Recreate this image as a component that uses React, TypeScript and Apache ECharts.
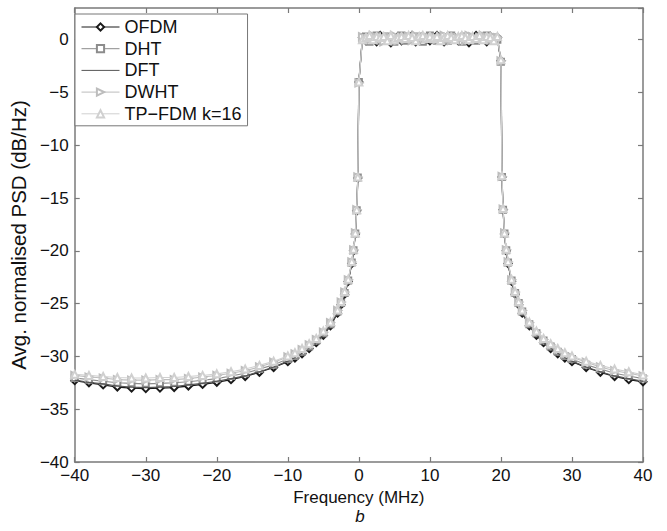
import React, { useEffect, useRef } from "react";
import * as echarts from "echarts";

// Frequency grid (MHz)
const xLeft = [-40, -38, -36, -34, -32, -30, -28, -26, -24, -22, -20, -18, -16, -14, -12, -10, -9, -8, -7, -6, -5, -4, -3, -2.5, -2, -1.5, -1, -0.75, -0.5, -0.3, -0.15, 0];
const xBand = [0.5, 1, 1.5, 2, 2.5, 3, 3.5, 4, 4.5, 5, 5.5, 6, 6.5, 7, 7.5, 8, 8.5, 9, 9.5, 10, 10.5, 11, 11.5, 12, 12.5, 13, 13.5, 14, 14.5, 15, 15.5, 16, 16.5, 17, 17.5, 18, 18.5, 19, 19.5];
const xRight = [20, 20.15, 20.3, 20.5, 20.75, 21, 21.5, 22, 22.5, 23, 24, 25, 26, 27, 28, 29, 30, 32, 34, 36, 38, 40];

// OFDM
const ofdmLeft = [-32.3, -32.5, -32.7, -32.9, -33.0, -33.05, -33.0, -32.95, -32.8, -32.65, -32.45, -32.2, -31.9, -31.5, -31.05, -30.5, -30.15, -29.75, -29.25, -28.7, -28.0, -27.1, -25.9, -25.1, -24.1, -22.9, -21.2, -20.0, -18.4, -16.2, -13.1, -4.0];
const ofdmBand = [0.2, -0.1, 0.3, 0.1, -0.2, 0.4, 0.0, 0.2, -0.3, 0.1, 0.3, -0.1, 0.2, 0.0, 0.4, -0.2, 0.1, 0.3, 0.0, -0.1, 0.2, 0.4, 0.1, -0.2, 0.3, 0.0, 0.2, -0.1, 0.3, 0.1, -0.3, 0.2, 0.4, 0.0, 0.1, -0.2, 0.3, 0.1, 0.2];
const ofdmRight = [-2.0, -13.0, -16.1, -18.4, -20.0, -21.2, -22.9, -24.1, -25.1, -25.9, -27.1, -28.0, -28.7, -29.25, -29.75, -30.15, -30.5, -31.05, -31.5, -31.9, -32.2, -32.4];

// DHT
const dhtLeft = [-32.05, -32.2, -32.35, -32.5, -32.55, -32.6, -32.55, -32.5, -32.4, -32.25, -32.1, -31.85, -31.6, -31.2, -30.8, -30.25, -29.95, -29.55, -29.05, -28.5, -27.8, -26.95, -25.75, -24.95, -24.0, -22.8, -21.1, -19.95, -18.35, -16.15, -13.05, -4.0];
const dhtBand = [0.0, 0.3, -0.2, 0.2, 0.4, -0.1, 0.1, 0.3, 0.0, -0.2, 0.2, 0.4, -0.1, 0.3, 0.1, 0.0, 0.3, -0.2, 0.2, 0.4, 0.0, -0.1, 0.3, 0.2, -0.1, 0.4, 0.1, 0.0, -0.2, 0.3, 0.2, 0.0, -0.1, 0.3, 0.2, 0.4, -0.1, 0.2, 0.0];
const dhtRight = [-2.1, -13.0, -16.1, -18.35, -19.95, -21.1, -22.8, -24.0, -24.95, -25.75, -26.95, -27.8, -28.5, -29.05, -29.55, -29.95, -30.25, -30.8, -31.2, -31.6, -31.85, -32.1];

// DFT
const dftLeft = [-32.25, -32.45, -32.6, -32.8, -32.9, -32.95, -32.9, -32.85, -32.7, -32.55, -32.35, -32.1, -31.85, -31.45, -31.0, -30.45, -30.1, -29.7, -29.2, -28.65, -27.95, -27.05, -25.85, -25.05, -24.05, -22.9, -21.2, -20.0, -18.4, -16.2, -13.1, -4.0];
const dftBand = [0.1, 0.0, 0.2, 0.3, -0.1, 0.2, 0.4, -0.1, 0.2, 0.3, 0.0, 0.1, 0.4, -0.2, 0.2, 0.3, -0.1, 0.1, 0.3, 0.2, -0.2, 0.2, 0.0, 0.3, 0.1, 0.2, -0.2, 0.3, 0.0, 0.4, 0.1, -0.1, 0.2, 0.3, -0.1, 0.0, 0.2, 0.4, 0.1];
const dftRight = [-2.0, -13.05, -16.15, -18.4, -20.0, -21.2, -22.9, -24.05, -25.05, -25.85, -27.05, -27.95, -28.65, -29.2, -29.7, -30.1, -30.45, -31.0, -31.45, -31.85, -32.1, -32.35];

// DWHT
const dwhtLeft = [-31.8, -31.95, -32.05, -32.2, -32.25, -32.25, -32.2, -32.2, -32.1, -31.95, -31.8, -31.6, -31.35, -31.0, -30.55, -30.05, -29.75, -29.35, -28.9, -28.4, -27.7, -26.8, -25.65, -24.85, -23.9, -22.75, -21.05, -19.9, -18.3, -16.1, -13.0, -4.1];
const dwhtBand = [0.3, 0.1, 0.0, 0.4, 0.2, 0.1, -0.2, 0.3, 0.2, 0.4, -0.1, 0.2, 0.0, 0.3, -0.1, 0.4, 0.2, 0.0, 0.3, 0.1, 0.3, 0.0, 0.2, 0.4, 0.0, -0.1, 0.3, 0.2, 0.1, -0.1, 0.4, 0.3, 0.0, 0.2, 0.4, 0.1, 0.0, 0.3, 0.2];
const dwhtRight = [-2.0, -12.95, -16.05, -18.3, -19.9, -21.05, -22.75, -23.9, -24.85, -25.65, -26.8, -27.7, -28.4, -28.9, -29.35, -29.75, -30.05, -30.55, -31.0, -31.35, -31.6, -31.85];

// TP-FDM k=16
const tpLeft = [-31.7, -31.8, -31.9, -32.0, -32.05, -32.05, -32.0, -32.0, -31.9, -31.8, -31.65, -31.45, -31.2, -30.85, -30.45, -29.95, -29.65, -29.25, -28.8, -28.3, -27.6, -26.75, -25.6, -24.8, -23.85, -22.7, -21.0, -19.85, -18.3, -16.1, -13.0, -4.0];
const tpBand = [0.0, 0.2, 0.4, 0.0, 0.3, 0.2, 0.3, -0.1, 0.4, 0.0, 0.2, 0.3, 0.1, 0.4, 0.2, -0.1, 0.3, 0.4, 0.1, 0.3, 0.1, 0.3, -0.1, 0.2, 0.4, 0.2, 0.0, 0.3, 0.4, 0.2, 0.0, 0.3, 0.1, 0.4, 0.0, 0.3, 0.2, -0.1, 0.3];
const tpRight = [-1.9, -12.9, -16.0, -18.3, -19.85, -21.0, -22.7, -23.85, -24.8, -25.6, -26.75, -27.6, -28.3, -28.8, -29.25, -29.65, -29.95, -30.45, -30.85, -31.2, -31.45, -31.75];

const seriesNames = ["OFDM", "DHT", "DFT", "DWHT", "TP\u2212FDM k=16"];
const xTicks = [-40, -30, -20, -10, 0, 10, 20, 30, 40];
const yTicks = [-40, -35, -30, -25, -20, -15, -10, -5, 0];

const FONT = "'Liberation Sans', Arial, Helvetica, sans-serif";
const AXIS_COLOR = "#7a7a7a";

const freq = [...xLeft, ...xBand, ...xRight];
const zip = (a: number[], b: number[], c: number[]) => {
  const v = [...a, ...b, ...c];
  return freq.map((f, i) => [f, v[i]]);
};
const minus = (v: number) => String(v).replace("-", "\u2212");

export default function App() {
  const ref = useRef<HTMLDivElement>(null);
  useEffect(() => {
    if (!ref.current) return;
    const chart = echarts.init(ref.current, null, { renderer: "svg" });
    const styles = [
      { color: "#1a1a1a", symbol: "emptyDiamond", size: 7, rotate: 0, width: 1.3, data: zip(ofdmLeft, ofdmBand, ofdmRight) },
      { color: "#8c8c8c", symbol: "emptyRect", size: 6, rotate: 0, width: 1.1, data: zip(dhtLeft, dhtBand, dhtRight) },
      { color: "#555555", symbol: "none", size: 0, rotate: 0, width: 1.2, data: zip(dftLeft, dftBand, dftRight) },
      { color: "#bdbdbd", symbol: "emptyTriangle", size: 7, rotate: -90, width: 1.1, data: zip(dwhtLeft, dwhtBand, dwhtRight) },
      { color: "#d0d0d0", symbol: "emptyTriangle", size: 7, rotate: 0, width: 1.1, data: zip(tpLeft, tpBand, tpRight) },
    ];
    chart.setOption({
      animation: false,
      backgroundColor: "#ffffff",
      textStyle: { fontFamily: FONT },
      grid: { left: 67, right: 24, top: 8, bottom: 69, containLabel: false },
      title: {
        text: "b",
        left: 355,
        top: 503,
        textAlign: "center",
        textStyle: { fontFamily: FONT, fontStyle: "italic", fontWeight: "normal", fontSize: 17, color: "#111" },
      },
      legend: {
        show: true,
        data: seriesNames.map((n) => (n === "DFT" ? { name: n, itemStyle: { opacity: 0 } } : { name: n })),
        orient: "vertical",
        left: 75,
        top: 14,
        backgroundColor: "#fff",
        borderColor: "#777",
        borderWidth: 1,
        borderRadius: 0,
        padding: [4, 6, 3, 6],
        itemWidth: 38,
        itemHeight: 9,
        itemGap: 3.7,
        lineStyle: { width: 1 },
        textStyle: { fontFamily: FONT, fontSize: 18, color: "#111", lineHeight: 18 },
      },
      xAxis: [
        {
          type: "value",
          min: -40,
          max: 40,
          interval: 10,
          name: "Frequency (MHz)",
          nameLocation: "middle",
          nameGap: 22,
          nameTextStyle: { fontFamily: FONT, fontSize: 17, color: "#111" },
          axisLine: { show: true, onZero: false, lineStyle: { color: AXIS_COLOR, width: 1.5 } },
          axisTick: { show: true, inside: true, length: 5, lineStyle: { color: AXIS_COLOR, width: 1.2 } },
          axisLabel: { fontFamily: FONT, fontSize: 17, color: "#111", margin: 5, formatter: (v: number) => (xTicks.includes(v) ? minus(v) : "") },
          splitLine: { show: false },
        },
        {
          type: "value",
          position: "top",
          min: -40,
          max: 40,
          interval: 10,
          axisLine: { show: true, onZero: false, lineStyle: { color: AXIS_COLOR, width: 1.5 } },
          axisTick: { show: true, inside: true, length: 5, lineStyle: { color: AXIS_COLOR, width: 1.2 } },
          axisLabel: { show: false },
          splitLine: { show: false },
        },
      ],
      yAxis: [
        {
          type: "value",
          min: -40,
          max: 3,
          interval: 5,
          name: "Avg. normalised PSD (dB/Hz)",
          nameLocation: "middle",
          nameGap: 31,
          nameTextStyle: { fontFamily: FONT, fontSize: 20.5, color: "#111" },
          axisLine: { show: true, onZero: false, lineStyle: { color: AXIS_COLOR, width: 1.5 } },
          axisTick: { show: true, inside: true, length: 5, lineStyle: { color: AXIS_COLOR, width: 1.2 } },
          axisLabel: { fontFamily: FONT, fontSize: 17, color: "#111", margin: 6, showMaxLabel: false, formatter: (v: number) => (yTicks.includes(v) ? minus(v) : "") },
          splitLine: { show: false },
        },
        {
          type: "value",
          position: "right",
          min: -40,
          max: 3,
          interval: 5,
          axisLine: { show: true, onZero: false, lineStyle: { color: AXIS_COLOR, width: 1.5 } },
          axisTick: { show: true, inside: true, length: 5, lineStyle: { color: AXIS_COLOR, width: 1.2 } },
          axisLabel: { show: false },
          splitLine: { show: false },
        },
      ],
      series: styles.map((s, i) => ({
        name: seriesNames[i],
        type: "line",
        xAxisIndex: 0,
        yAxisIndex: 0,
        data: s.data,
        showSymbol: s.symbol !== "none",
        symbol: s.symbol,
        symbolSize: s.size,
        symbolRotate: s.rotate,
        showAllSymbol: true,
        lineStyle: { color: s.color, width: s.width },
        itemStyle: { color: s.color, borderWidth: 1 },
        emphasis: { disabled: true },
        z: 2 + i,
      })),
    });
    return () => chart.dispose();
  }, []);
  return <div ref={ref} style={{ width: 667, height: 531, position: "absolute", left: 0, top: 0 }} />;
}
